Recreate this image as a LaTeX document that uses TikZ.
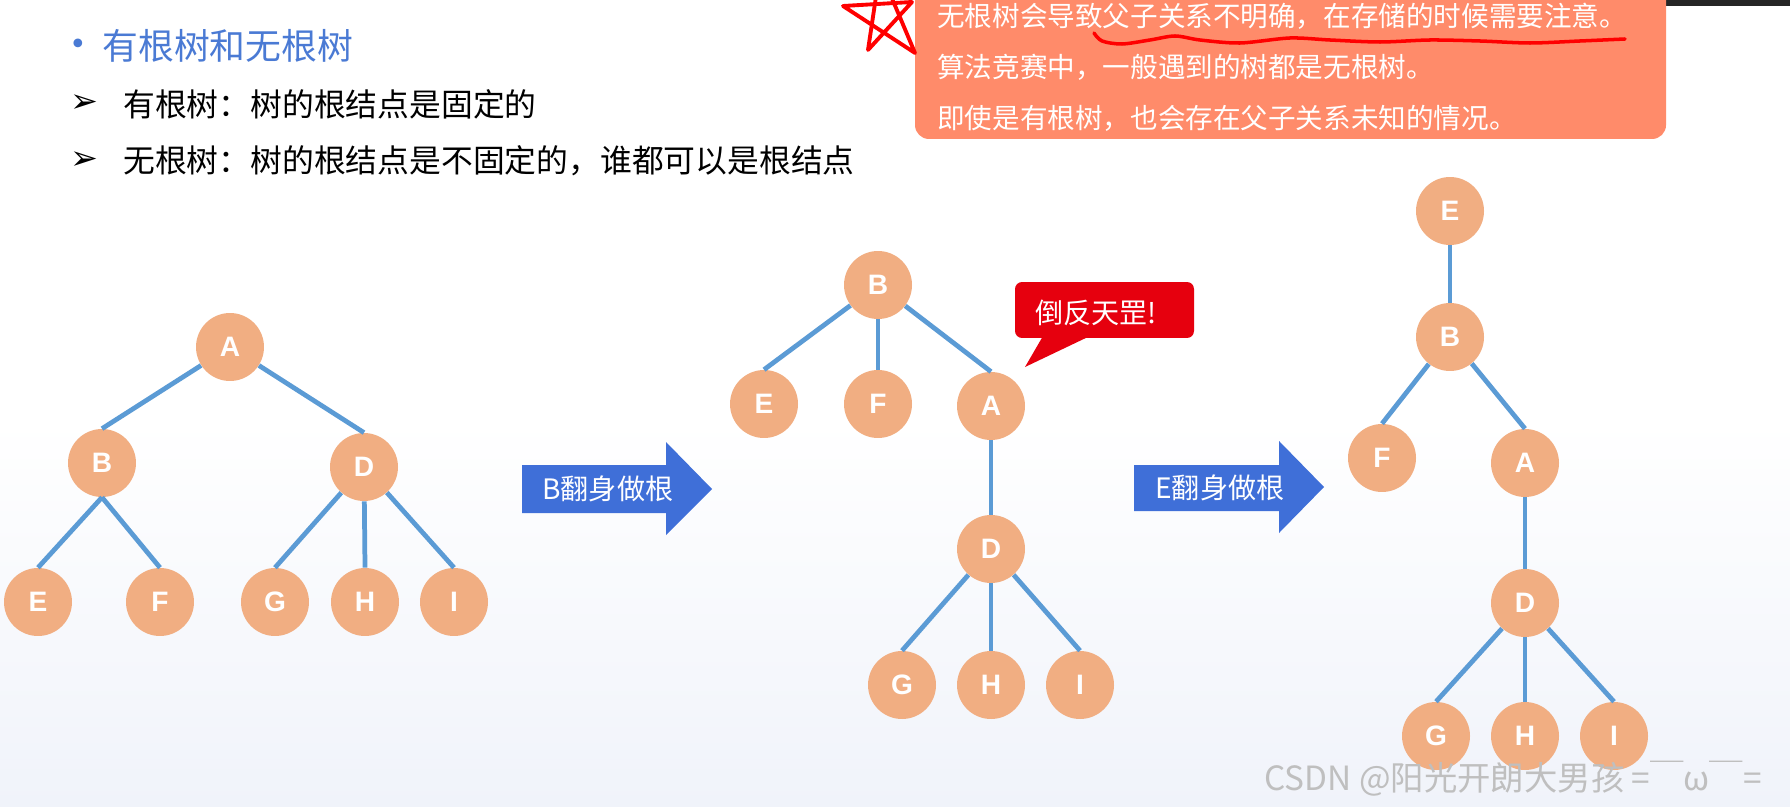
\documentclass[tikz,border=0pt]{standalone}
\usepackage{fontspec}
\usepackage{xcolor,tikz}
\newfontfamily\cjk{Noto Sans CJK SC}
\newfontfamily\nodefont{Liberation Sans}
\newfontfamily\symfont{DejaVu Sans}
\newcommand{\fsz}[1]{\fontsize{#1}{#1}\selectfont}
\definecolor{nodeorange}{RGB}{241,174,130}
\definecolor{edgeblue}{RGB}{91,155,213}
\definecolor{arrowblue}{RGB}{63,111,216}
\definecolor{boxsalmon}{RGB}{255,139,106}
\definecolor{calloutred}{RGB}{230,0,14}
\definecolor{titleblue}{RGB}{74,122,212}
\definecolor{bgtint}{RGB}{240,243,250}

\begin{document}
\begin{tikzpicture}[x=0.02cm,y=-0.02cm,font=\cjk,
  tnode/.style={circle,fill=nodeorange,minimum size=1.36cm,inner sep=0pt,
    text=white,font=\nodefont\bfseries\fsz{16}},
  tedge/.style={draw=edgeblue,line width=2.7pt},
  txt/.style={anchor=west,inner sep=0pt}]
\useasboundingbox (0,0) rectangle (1790,807);
\fill[white] (0,0) rectangle (1790,807);
\shade[top color=white,bottom color=bgtint] (0,420) rectangle (1790,807);
% heading and list
\node[text=titleblue,font=\symfont\fsz{17},inner sep=0pt] (dot) at (78,47) {•};
\node[txt,text=titleblue,font=\cjk\fsz{20.4}] (title) at (102,46) {有根树和无根树};
\node[txt,font=\symfont\fsz{19}] (m1) at (70,104) {➢};
\node[txt,font=\cjk\fsz{18.1}] (l1) at (123,104) {有根树：树的根结点是固定的};
\node[txt,font=\symfont\fsz{19}] (m2) at (70,161) {➢};
\node[txt,font=\cjk\fsz{18.1}] (l2) at (123,161) {无根树：树的根结点是不固定的，谁都可以是根结点};
% note box
\fill[gray!30!black] (1640,0) rectangle (1790,6);
\fill[boxsalmon,rounded corners=0.28cm] (915,-40) rectangle (1666,139);
\node[txt,text=white,font=\cjk\fsz{15.7}] (n1) at (937,16) {无根树会导致父子关系不明确，在存储的时候需要注意。};
\node[txt,text=white,font=\cjk\fsz{15.7}] (n2) at (937,67) {算法竞赛中，一般遇到的树都是无根树。};
\node[txt,text=white,font=\cjk\fsz{15.7}] (n3) at (937,118) {即使是有根树，也会存在父子关系未知的情况。};
\draw[red,line width=2.2pt,line join=round,line cap=round]
  (843,6) -- (912,2) -- (868,50) -- (880,-30) -- (915,53) -- cycle;
\draw[red,line width=2pt,line cap=round] plot[smooth] coordinates {(1094,33) (1102,41)
  (1122,44) (1150,40) (1175,36) (1200,40) (1240,43) (1290,38) (1330,40) (1380,42)
  (1430,40) (1480,41) (1530,43) (1580,41) (1625,39)};
% left tree
\node[tnode] (lA) at (230,347) {A};
\node[tnode] (lB) at (102,463) {B};
\node[tnode] (lD) at (364,467) {D};
\node[tnode] (lE) at (38,602) {E};
\node[tnode] (lF) at (160,602) {F};
\node[tnode] (lG) at (275,602) {G};
\node[tnode] (lH) at (365,602) {H};
\node[tnode] (lI) at (454,602) {I};
\foreach \p/\c in {lA/lB,lA/lD,lB.south/lE,lB.south/lF,lD/lG,lD/lH,lD/lI}
  \draw[tedge] (\p) -- (\c.north);
% first arrow
\fill[arrowblue] (522,465) -- (666,465) -- (666,442) -- (712,489) -- (666,535)
  -- (666,513) -- (522,513) -- cycle;
\node[txt,text=white,font=\cjk\fsz{16}] (t1) at (542,489) {B翻身做根};
% middle tree
\node[tnode] (mB) at (878,285) {B};
\node[tnode] (mE) at (764,404) {E};
\node[tnode] (mF) at (878,404) {F};
\node[tnode] (mA) at (991,406) {A};
\node[tnode] (mD) at (991,549) {D};
\node[tnode] (mG) at (902,685) {G};
\node[tnode] (mH) at (991,685) {H};
\node[tnode] (mI) at (1080,685) {I};
\foreach \p/\c in {mB/mE,mB/mF,mB/mA,mA/mD,mD/mG,mD/mH,mD/mI}
  \draw[tedge] (\p) -- (\c.north);
% callout
\fill[calloutred] (1043,336) -- (1090,336) -- (1025,367) -- cycle;
\node[fill=calloutred,rounded corners=0.14cm,minimum width=3.58cm,
  minimum height=1.12cm,inner sep=0pt] (warn) at (1104.5,310) {};
\node[txt,text=white,font=\cjk\fsz{16}] (wt) at (1035,313) {倒反天罡!};
% second arrow
\fill[arrowblue] (1134,465) -- (1279,465) -- (1279,441) -- (1324,487) -- (1279,533)
  -- (1279,511) -- (1134,511) -- cycle;
\node[txt,text=white,font=\cjk\fsz{16}] (t2) at (1155,488) {E翻身做根};
% right tree
\node[tnode] (rE) at (1450,211) {E};
\node[tnode] (rB) at (1450,337) {B};
\node[tnode] (rF) at (1382,458) {F};
\node[tnode] (rA) at (1525,463) {A};
\node[tnode] (rD) at (1525,603) {D};
\node[tnode] (rG) at (1436,736) {G};
\node[tnode] (rH) at (1525,736) {H};
\node[tnode] (rI) at (1614,736) {I};
\foreach \p/\c in {rE/rB,rB/rF,rB/rA,rA/rD,rD/rG,rD/rH,rD/rI}
  \draw[tedge] (\p) -- (\c.north);
% watermark
\node[txt,text=gray!50,font=\cjk\fsz{19}] (mark) at (1264,779) {CSDN @阳光开朗大男孩 =￣ω￣=};
\end{tikzpicture}
\end{document}
